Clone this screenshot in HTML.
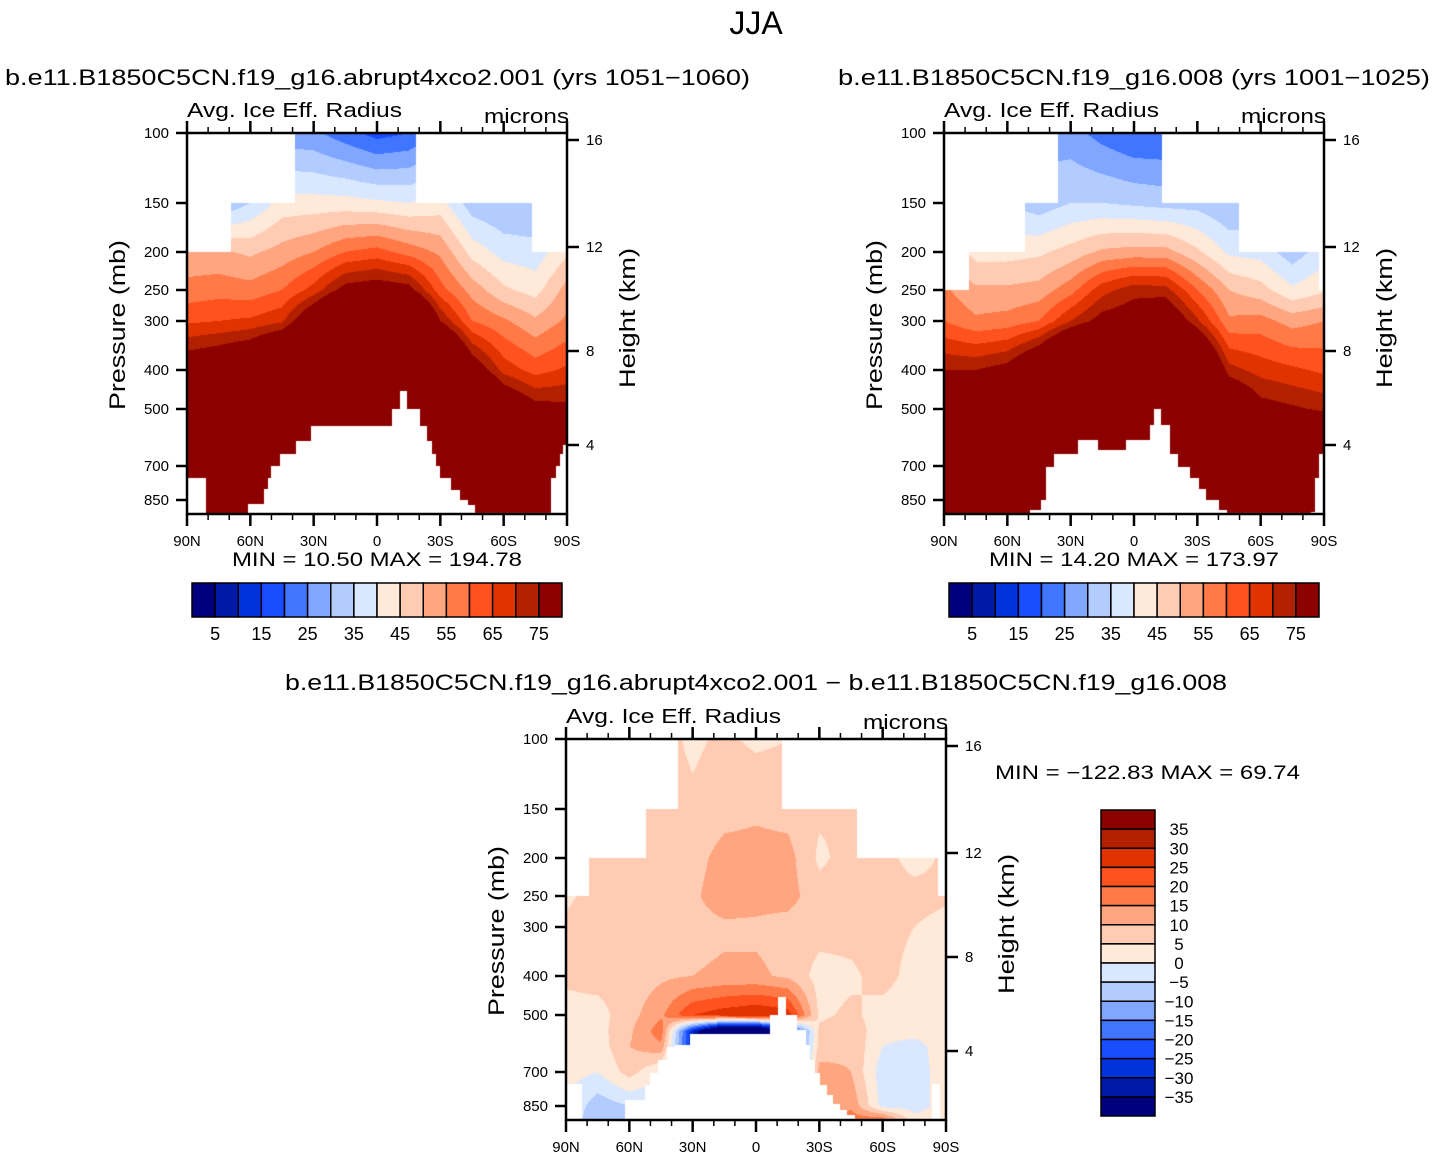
<!DOCTYPE html>
<html><head><meta charset="utf-8">
<style>
html,body{margin:0;padding:0;background:#fff;}
#wrap{position:relative;width:1434px;height:1156px;overflow:hidden;}
canvas{position:absolute;}
svg{position:absolute;left:0;top:0;}
text{font-family:"Liberation Sans",sans-serif;fill:#000;}
</style></head>
<body>
<div id="wrap">
<canvas id="c1" width="380" height="381" style="left:187px;top:133px"></canvas>
<canvas id="c2" width="380" height="381" style="left:944px;top:133px"></canvas>
<canvas id="c3" width="380" height="381" style="left:566px;top:739px"></canvas>
<svg id="svg" width="1434" height="1156" xmlns="http://www.w3.org/2000/svg">
<text x="756" y="34" font-size="32" text-anchor="middle">JJA</text>
<text x="5" y="85" font-size="22" textLength="745" lengthAdjust="spacingAndGlyphs">b.e11.B1850C5CN.f19_g16.abrupt4xco2.001 (yrs 1051−1060)</text>
<text x="838" y="85" font-size="22" textLength="592" lengthAdjust="spacingAndGlyphs">b.e11.B1850C5CN.f19_g16.008 (yrs 1001−1025)</text>
<text x="285" y="690" font-size="22" textLength="942" lengthAdjust="spacingAndGlyphs">b.e11.B1850C5CN.f19_g16.abrupt4xco2.001 − b.e11.B1850C5CN.f19_g16.008</text>
<text x="232" y="566" font-size="19" textLength="290" lengthAdjust="spacingAndGlyphs">MIN =  10.50  MAX =  194.78</text>
<text x="989" y="566" font-size="19" textLength="290" lengthAdjust="spacingAndGlyphs">MIN =  14.20  MAX =  173.97</text>
<text x="995" y="779" font-size="19" textLength="305" lengthAdjust="spacingAndGlyphs">MIN = −122.83  MAX =  69.74</text>
</svg>
</div>
<script>
// ---- data ----
const lats = [90,75,60,45,30,15,0,-15,-30,-45,-60,-75,-90];
const plev = [100,150,200,250,300,400,500,550,600,700,850,925];
const levelsAbs = [5,10,15,20,25,30,35,40,45,50,55,60,65,70,75];
const levelsDiff = [-35,-30,-25,-20,-15,-10,-5,0,5,10,15,20,25,30,35];
const colors = ['#00007f','#001aa8','#0033db','#1a4dff','#4076ff','#80a6ff','#b3ccff','#d9e8ff','#ffe9d8','#ffccb3','#ffa680','#ff7a47','#ff521f','#e03300','#b32000','#8c0000'];
const absTickLabels = ['5','15','25','35','45','55','65','75'];
const diffTickLabels = ['35','30','25','20','15','10','5','0','−5','−10','−15','−20','−25','−30','−35'];
const latTickLabels = ['90N','60N','30N','0','30S','60S','90S'];
const presTicks = [100,150,200,250,300,400,500,700,850];
const kmTicks = [16,12,8,4];

// field: rows = latitudes, cols = plev
const radExp = [
 [30,40,51,57,64,82,100,120,140,150,150,150],
 [28,30,51,58,65,85,110,130,150,150,150,150],
 [26,35,49,57,66,90,120,150,150,150,150,150],
 [27,42,52,60,69,103,140,160,160,160,160,160],
 [26,42,55,67,85,120,160,170,170,170,170,170],
 [22,42,60,78,105,150,175,180,180,180,180,180],
 [18,41,62,80,110,150,175,190,190,190,190,190],
 [20,40,58,78,105,150,175,185,185,185,185,185],
 [26,42,54,62,75,110,150,170,170,170,170,170],
 [26,32,43,53,60,82,110,130,150,160,160,160],
 [26,30,38,46,56,68,87,110,130,150,150,150],
 [26,30,37,43,51,63,78,95,110,130,140,140],
 [35,40,44,52,56,66,77,90,100,120,130,130]];
const radCtl = [
 [35,42,50,56,60,75,90,110,130,150,150,150],
 [35,38,43,51,56,75,95,120,140,150,150,150],
 [30,35,43,51,57,78,100,130,150,150,150,150],
 [28,32,44,52,60,90,120,150,150,150,150,150],
 [27,35,47,58,70,110,140,150,150,150,150,150],
 [23,35,51,68,78,120,150,160,160,160,160,160],
 [20,34,52,73,80,120,150,160,160,160,160,160],
 [20,33,52,72,85,120,150,160,160,160,160,160],
 [26,33,46,60,71,100,130,150,150,150,150,150],
 [26,30,39,50,56,72,90,110,130,150,150,150],
 [28,32,38,47,57,68,78,90,100,120,130,130],
 [28,30,32,41,53,66,76,85,95,110,120,120],
 [32,35,38,44,55,64,74,80,85,90,100,100]];
const radDiff = [
 [4,4,4,4,6,6,3,3,3,2,0,0],
 [7,7,7,7,8,7,3,3,2,0,-8,-10],
 [7,7,7,7,7,7,8,9,10,7,-5,-8],
 [7,7,7,8,7,9,14,18,14,0,-5,-5],
 [4,6,8,9,8,10,25,-30,-30,-30,-30,-30],
 [6,8,12,13,9,11,28,-60,-60,-60,-60,-60],
 [4,9,12,12,9,11,30,-60,-60,-60,-60,-60],
 [5,8,12,12,8,9,28,-30,-30,-30,-30,-30],
 [6,6,4,7,7,3,4,6,7,12,12,12],
 [5,5,7,7,7,4,6,8,9,10,14,18],
 [7,7,7,7,7,7,3,2,0,-3,-2,20],
 [3,3,3,7,5,3,2,2,-2,-3,-2,2],
 [6,6,6,6,3,3,3,3,3,3,2,2]];

// data-top (missing above) and surface (missing below) masks: lat edges + pressures
const top1Lat = [90,69.2,38.7,-18.4,-73.2,-90], top1P = [200,150,100,150,200];
const top2Lat = [90,78.3,51.6,36.2,-13.2,-49.6,-87.7,-90], top2P = [250,200,150,100,150,200,250];
const top3Lat = [90,79.1,52.1,37,-12.3,-47.8,-86.2,-90], top3P = [250,200,150,100,150,200,250];
const sfc1Lat = [90,81,61.1,53.7,51.8,50,46,38.6,31.1,-7,-10.7,-14,-20.2,-23.8,-26.2,-27.8,-29.9,-35.1,-39.2,-43.2,-46.5,-82.4,-84.9,-86.5,-88.2,-90];
const sfc1P = [750,1000,870,797,750,700,651,604,552,500,450,500,552,604,651,700,750,805,850,875,915,750,700,651,620];
const sfc2Lat = [90,49.4,44.2,41.8,37.9,26.7,17.1,4,-7.5,-9.5,-13,-17,-20.8,-26.5,-30.6,-34.1,-40.1,-44.1,-83.9,-85.8,-87.7,-90];
const sfc2P = [1000,900,850,703,651,600,637,600,549,500,549,651,703,750,800,850,900,915,910,750,651];
const sfc3Lat = [90,82.6,62,52.6,50.2,46.3,42,38.4,31.3,-6.6,-10.6,-14.2,-19.6,-23.7,-25.6,-27.9,-30.3,-33.5,-36.6,-39.8,-43,-46.9,-83.2,-87.2,-90];
const sfc3P = [750,1000,820,755,703,651,604,597,560,500,450,500,545,597,651,703,755,800,840,870,895,918,750,918];

// ---- axis helpers ----
const tickY = [0,70,119,157,188,237,276,333,367];
function yOfP(p){
  const lp=Math.log(p);
  for(let i=0;i<presTicks.length-1;i++){
    const a=Math.log(presTicks[i]), b=Math.log(presTicks[i+1]);
    if(lp<=b||i===presTicks.length-2) return tickY[i]+(lp-a)/(b-a)*(tickY[i+1]-tickY[i]);
  }
}
function pOfY(y){
  for(let i=0;i<tickY.length-1;i++){
    if(y<=tickY[i+1]||i===tickY.length-2){
      const a=Math.log(presTicks[i]), b=Math.log(presTicks[i+1]);
      return Math.exp(a+(y-tickY[i])/(tickY[i+1]-tickY[i])*(b-a));
    }
  }
}
function xOfLat(lat){ return (90-lat)/180*380; }
function yOfKm(km){ const t={16:7,12:114,8:218,4:312}; return t[km]; }
function stepLookup(edges, vals, lat){
  for(let i=0;i<vals.length;i++){ if(lat<=edges[i] && lat>=edges[i+1]) return vals[i]; }
  return vals[vals.length-1];
}
function fieldAt(F, lat, p){
  let fi=(90-lat)/15; fi=Math.max(0,Math.min(lats.length-1.0001,fi));
  const i=Math.floor(fi), tx=fi-i;
  const lp=Math.log(p); let j=0;
  while(j<plev.length-2 && lp>Math.log(plev[j+1])) j++;
  let ty=(lp-Math.log(plev[j]))/(Math.log(plev[j+1])-Math.log(plev[j]));
  ty=Math.max(0,Math.min(1,ty));
  const a=F[i][j]*(1-ty)+F[i][j+1]*ty, b=F[i+1][j]*(1-ty)+F[i+1][j+1]*ty;
  return a*(1-tx)+b*tx;
}
function hex(c){return [parseInt(c.slice(1,3),16),parseInt(c.slice(3,5),16),parseInt(c.slice(5,7),16)];}
const rgb = colors.map(hex);
function drawField(id, F, levels, topLat, topP, sfcLat, sfcP){
  const cv=document.getElementById(id), ctx=cv.getContext('2d');
  const img=ctx.createImageData(380,381), d=img.data;
  for(let y=0;y<381;y++){
    const p=pOfY(y+0.5);
    for(let x=0;x<380;x++){
      const lat=90-(x+0.5)/380*180;
      const k=(y*380+x)*4;
      if(p<stepLookup(topLat,topP,lat) || p>stepLookup(sfcLat,sfcP,lat)){d[k]=d[k+1]=d[k+2]=255;d[k+3]=255;continue;}
      const v=fieldAt(F,lat,p);
      let ci=0; while(ci<levels.length && v>=levels[ci]) ci++;
      const c=rgb[ci]; d[k]=c[0];d[k+1]=c[1];d[k+2]=c[2];d[k+3]=255;
    }
  }
  ctx.putImageData(img,0,0);
}
drawField('c1', radExp, levelsAbs, top1Lat, top1P, sfc1Lat, sfc1P);
drawField('c2', radCtl, levelsAbs, top2Lat, top2P, sfc2Lat, sfc2P);
drawField('c3', radDiff, levelsDiff, top3Lat, top3P, sfc3Lat, sfc3P);

// ---- SVG axes ----
const NS='http://www.w3.org/2000/svg', svg=document.getElementById('svg');
function mk(tag, attrs, parent){ const e=document.createElementNS(NS,tag); for(const k in attrs) e.setAttribute(k,attrs[k]); (parent||svg).appendChild(e); return e; }
function panelAxes(ox, oy, tag){
  const g=mk('g',{});
  
  
  const box=mk('rect',{x:ox,y:oy,width:380,height:381,fill:'none',stroke:'#000','stroke-width':2.5},g);
  
  
  for(let lat=90;lat>=-90;lat-=10){
    const x=ox+xOfLat(lat), major=(lat%30===0), len=major?12:6;
    const t1=mk('line',{x1:x,y1:oy,x2:x,y2:oy-len,stroke:'#000','stroke-width':major?2.5:1.5},g);
    
    
    const t2=mk('line',{x1:x,y1:oy+381,x2:x,y2:oy+381+len,stroke:'#000','stroke-width':major?2.5:1.5},g);
    
    
  }
  latTickLabels.forEach((s,i)=>{
    const t=mk('text',{x:ox+i*380/6,y:oy+413,'font-size':15,'text-anchor':'middle'},g);
    t.textContent=s;
    
    
  });
  presTicks.forEach(p=>{
    const y=oy+yOfP(p);
    const l=mk('line',{x1:ox,y1:y,x2:ox-11,y2:y,stroke:'#000','stroke-width':2.5},g);
    
    
    const t=mk('text',{x:ox-18,y:y+5,'font-size':15,'text-anchor':'end'},g);
    t.textContent=String(p);
    
    
  });
  kmTicks.forEach(km=>{
    const y=oy+yOfKm(km);
    const l=mk('line',{x1:ox+380,y1:y,x2:ox+392,y2:y,stroke:'#000','stroke-width':2.5},g);
    
    
    const t=mk('text',{x:ox+399,y:y+5,'font-size':15},g);
    t.textContent=String(km);
    
    
  });
  const a=mk('text',{x:ox,y:oy-16,'font-size':20,textLength:215,lengthAdjust:'spacingAndGlyphs'},g);
  a.textContent='Avg. Ice Eff. Radius';
  
  
  const u=mk('text',{x:ox+297,y:oy-10,'font-size':20,textLength:85,lengthAdjust:'spacingAndGlyphs'},g);
  u.textContent='microns';
  
  
  const py=mk('text',{x:0,y:0,'font-size':22,'text-anchor':'middle',textLength:170,lengthAdjust:'spacingAndGlyphs',transform:'translate('+(ox-62)+','+(oy+192)+') rotate(-90)'},g);
  py.textContent='Pressure (mb)';
  
  
  const hy=mk('text',{x:0,y:0,'font-size':22,'text-anchor':'middle',textLength:140,lengthAdjust:'spacingAndGlyphs',transform:'translate('+(ox+448)+','+(oy+185)+') rotate(-90)'},g);
  hy.textContent='Height (km)';
  
  
}
panelAxes(187,133,'panel1');
panelAxes(944,133,'panel2');
panelAxes(566,739,'panel3');

function hColorbar(x0,y0,tag){
  const w=370/colors.length;
  colors.forEach((c,i)=>{
    const r=mk('rect',{x:x0+i*w,y:y0,width:w,height:34,fill:c,stroke:'#000','stroke-width':1.5});
    
    
  });
  absTickLabels.forEach((s,i)=>{
    const t=mk('text',{x:x0+(1+2*i)*w,y:y0+57,'font-size':18,'text-anchor':'middle'});
    t.textContent=s;
    
    
  });
}
hColorbar(192,583,'panel1');
hColorbar(949,583,'panel2');
(function(){
  const x0=1101,y0=810,h=306/colors.length;
  colors.slice().reverse().forEach((c,i)=>{
    const r=mk('rect',{x:x0,y:y0+i*h,width:54,height:h,fill:c,stroke:'#000','stroke-width':1.5});
    
    
  });
  diffTickLabels.forEach((s,i)=>{
    const t=mk('text',{x:1179,y:y0+(i+1)*h+6,'font-size':17,'text-anchor':'middle'});
    t.textContent=s;
    
    
  });
})();
</script>
</body></html>
